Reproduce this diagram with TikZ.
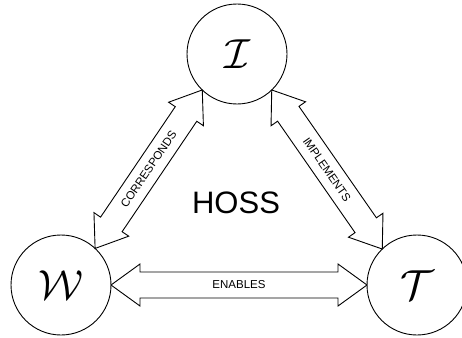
\RequirePackage{fix-cm}
\documentclass[tikz,border=0pt]{standalone}
\usepackage{fontspec}
\setmainfont{Liberation Sans}
\usetikzlibrary{calc}
\newcommand\hossarrow[4]{%
  \draw[barrow] let \p1=($#2-#1$), \n1={atan2(\y1,\x1)}, \n2={veclen(\x1,\y1)} in
    [shift={#1},rotate=\n1]
    (0pt,0pt) -- (29pt,21pt) -- (29pt,13pt) -- ({\n2-29pt},13pt) -- ({\n2-29pt},21pt)
    -- ({\n2},0pt) -- ({\n2-29pt},-21pt) -- ({\n2-29pt},-13pt) -- (29pt,-13pt) -- (29pt,-21pt) -- cycle;
  \path let \p1=($#2-#1$), \n1={atan2(\y1,\x1)} in
    node[blabel,rotate=\n1] (#4) at ($#1!0.5!#2$) {#3};}
\begin{document}
\begin{tikzpicture}[x=1pt,y=-1pt,
  state/.style={circle,draw,line width=0.9pt,minimum size=100pt,inner sep=0pt,outer sep=0pt,font=\fontsize{42}{42}\selectfont},
  barrow/.style={draw,line width=0.9pt,line join=miter},
  blabel/.style={inner sep=0pt,font=\fontsize{11.5}{11.5}\selectfont},
  title/.style={font=\fontsize{31}{31}\selectfont}
]
\useasboundingbox (0,0) rectangle (462,337);
\node[state] (I) at (237,54) {$\mathcal{I}$};
\node[state] (W) at (61,285) {$\mathcal{W}$};
\node[state] (T) at (417,285) {$\mathcal{T}$};
\node[title] (hoss) at (236,203) {HOSS};
\hossarrow{(W.47)}{(I.226)}{CORRESPONDS}{corr}
\hossarrow{(I.314)}{(T.134)}{IMPLEMENTS}{impl}
\hossarrow{(W.0)}{(T.180)}{ENABLES}{enab}
\end{tikzpicture}
\end{document}
